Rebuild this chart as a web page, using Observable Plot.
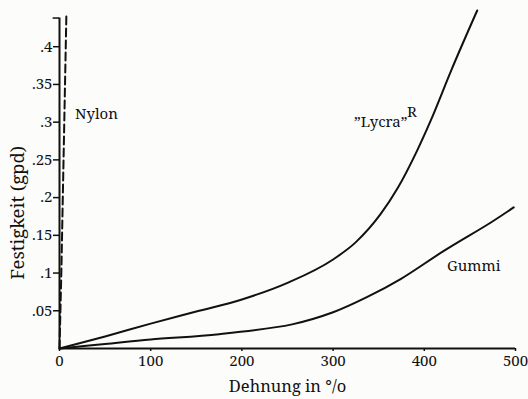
<!DOCTYPE html>
<html>
<head>
<meta charset="utf-8">
<script src="https://cdn.jsdelivr.net/npm/d3@7"></script>
<script src="https://cdn.jsdelivr.net/npm/@observablehq/plot@0.6"></script>
<style>
  html, body { margin: 0; padding: 0; background: #fcfcfb; }
  svg, svg text { font-family: "Noto Serif", "DejaVu Serif", serif !important; }
</style>
</head>
<body>
<div id="chart"></div>
<script>
// Dehnung (%) and Festigkeit (gpd)
const nylonX = [0, 2, 7.5];
const nylonY = [0, 0.1, 0.44];

const lycraX = [0, 50, 100, 150, 200, 250, 300, 325, 352, 371, 392, 407, 430, 458];
const lycraY = [0, 0.016, 0.033, 0.049, 0.065, 0.087, 0.118, 0.141, 0.178, 0.213, 0.262, 0.302, 0.37, 0.448];

const gummiX = [0, 50, 100, 175, 255, 300, 337, 374, 421, 473, 498];
const gummiY = [0, 0.006, 0.012, 0.019, 0.032, 0.048, 0.068, 0.092, 0.129, 0.167, 0.187];

const xTicks = [0, 100, 200, 300, 400, 500];
const yTicks = [0.05, 0.1, 0.15, 0.2, 0.25, 0.3, 0.35, 0.4];

const seriesLabels = ["Nylon", "\u201dLycra\u201d", "R", "Gummi"];
const labelX = [17, 323, 381, 425];
const labelY = [0.311, 0.300, 0.313, 0.109];

const xTitle = "Dehnung in \u00b0/o";
const yTitle = "Festigkeit (gpd)";

const toPts = (xs, ys) => xs.map((x, i) => ({x, y: ys[i]}));
const nylon = toPts(nylonX, nylonY);
const lycra = toPts(lycraX, lycraY);
const gummi = toPts(gummiX, gummiY);
const labels = seriesLabels.map((t, i) => ({t, x: labelX[i], y: labelY[i]}));

const chart = Plot.plot({
  width: 528,
  height: 399,
  marginLeft: 59,
  marginRight: 13,
  marginTop: 10,
  marginBottom: 51,
  style: {background: "transparent", fontFamily: "'Noto Serif', serif", color: "#111"},
  x: {domain: [0, 500]},
  y: {domain: [0, 0.448]},
  marks: [
    Plot.axisX({ticks: xTicks, tickSize: 3, tickPadding: 4, fontSize: 15, strokeWidth: 1.5,
      label: xTitle, labelArrow: "none", labelAnchor: "center", labelOffset: 43}),
    Plot.axisY({ticks: yTicks, tickSize: 6, tickPadding: 1, fontSize: 15, strokeWidth: 1.5,
      tickFormat: d => String(d).replace(/^0/, ""), label: null}),
    Plot.ruleY([0], {x1: 0, x2: 500, strokeWidth: 2, stroke: "#111"}),
    Plot.ruleX([0], {y1: 0, y2: 0.438, strokeWidth: 2, stroke: "#111"}),
    Plot.ruleY([0.438], {x1: -7, x2: 0, strokeWidth: 1.5, stroke: "#111", clip: false}),
    Plot.line(nylon, {x: "x", y: "y", stroke: "#111", strokeWidth: 2, strokeDasharray: "8,4"}),
    Plot.line(lycra, {x: "x", y: "y", stroke: "#111", strokeWidth: 2, curve: "monotone-x"}),
    Plot.line(gummi, {x: "x", y: "y", stroke: "#111", strokeWidth: 2, curve: "catmull-rom"}),
    Plot.text(labels, {x: "x", y: "y", text: "t", textAnchor: "start", fontSize: 15, fill: "#111"}),
    Plot.text([yTitle], {x: 0, y: 0.18, dx: -41, rotate: -90, fontSize: 18.5, fill: "#111", text: d => d})
  ]
});
// enlarge the x-axis title to match the reference
chart.querySelectorAll("g[aria-label='x-axis label'] text")
  .forEach(t => t.setAttribute("font-size", 16.5));
document.getElementById("chart").appendChild(chart);
</script>
</body>
</html>
